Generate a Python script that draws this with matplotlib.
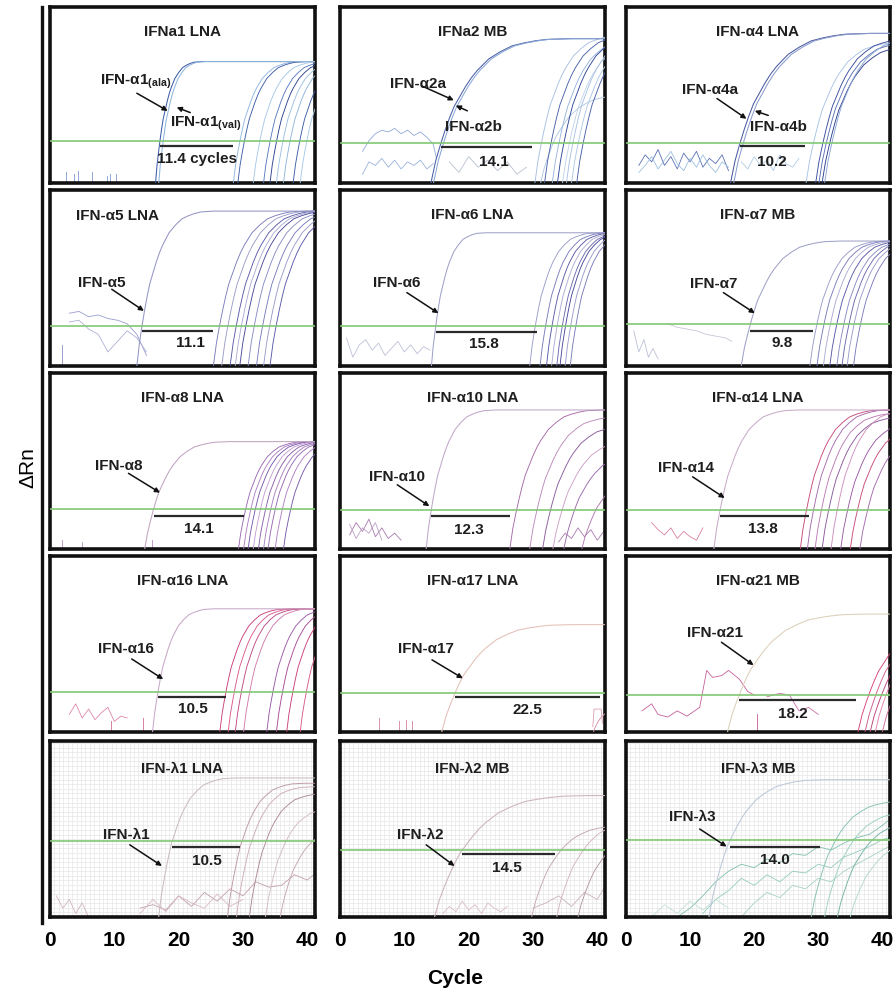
import numpy as np
import matplotlib
matplotlib.use("Agg")
import matplotlib.pyplot as plt
from matplotlib.lines import Line2D

plt.rcParams["font.family"] = ["Liberation Sans", "DejaVu Sans"]
plt.rcParams["mathtext.fontset"] = "custom"
plt.rcParams["mathtext.rm"] = "Liberation Sans:bold"
plt.rcParams["mathtext.it"] = "Liberation Sans:bold:italic"
plt.rcParams["mathtext.bf"] = "Liberation Sans:bold"

# ---------------------------------------------------------------- data
TITLES = ["IFNa1 LNA", "IFNa2 MB", "IFN-α4 LNA",
          "IFN-α5 LNA", "IFN-α6 LNA", "IFN-α7 MB",
          "IFN-α8 LNA", "IFN-α10 LNA", "IFN-α14 LNA",
          "IFN-α16 LNA", "IFN-α17 LNA", "IFN-α21 MB",
          "IFN-λ1 LNA", "IFN-λ2 MB", "IFN-λ3 MB"]

TARGET_LABELS = [["IFN-α1$_{\\mathregular{(ala)}}$", "IFN-α1$_{\\mathregular{(val)}}$"],
                 ["IFN-α2a", "IFN-α2b"], ["IFN-α4a", "IFN-α4b"],
                 ["IFN-α5"], ["IFN-α6"], ["IFN-α7"],
                 ["IFN-α8"], ["IFN-α10"], ["IFN-α14"],
                 ["IFN-α16"], ["IFN-α17"], ["IFN-α21"],
                 ["IFN-λ1"], ["IFN-λ2"], ["IFN-λ3"]]

# cycle difference between target and the other assays
DELTA_CT = [11.4, 14.1, 10.2, 11.1, 15.8, 9.8, 14.1, 12.3, 13.8,
            10.5, 22.5, 18.2, 10.5, 14.5, 14.0]

# threshold cycle of the target curve(s)
TARGET_CT = [[17.1, 17.6], [15.7, 16.1], [17.8, 18.3], [14.3], [14.9], [19.4],
             [16.1], [14.2], [14.7], [16.8], [17.9], [17.7],
             [19.0], [19.0], [16.3]]

# threshold level (fraction of the ΔRn axis)
THRESHOLD = [0.24, 0.227, 0.227, 0.227, 0.23, 0.237, 0.226, 0.224, 0.224,
             0.23, 0.223, 0.213, 0.43, 0.38, 0.44]

TARGET_PLATEAU = [0.69, 0.82, 0.85, 0.88, 0.757, 0.71, 0.61, 0.79, 0.79,
                  0.70, 0.61, 0.67, 0.79, 0.69, 0.78]
# cycles stretch of the amplification curve
CURVE_SPAN = [0.6, 1.8, 1.8, 1.0, 0.7, 1.3, 1.1, 0.9, 1.1,
              0.8, 1.7, 1.8, 1.0, 2.0, 1.5]

# start cycles and plateaus of the other (late) amplification curves
LATE_START = [[28.5, 29.2, 31.6, 33.2, 34.2, 35.2, 36.3, 37.8, 38.9],
              [30.3, 31.2, 31.8, 33.0, 33.8, 34.6, 35.2, 36.0, 36.8],
              [28.1, 29.6, 30.1, 30.6, 31.0],
              [25.4, 26.7, 28.0, 28.8, 29.5, 30.8, 32.1, 33.2, 34.2],
              [29.5, 31.1, 32.1, 32.9, 33.7, 34.2, 35.0, 35.8],
              [28.7, 29.8, 30.8, 31.8, 32.9, 33.7, 34.5, 35.5],
              [29.3, 30.1, 30.8, 31.6, 32.4, 33.2, 33.9, 35.0, 36.3],
              [26.4, 29.5, 31.5, 33.1, 34.8, 37.6],
              [27.2, 28.3, 29.5, 30.6, 32.0, 33.5, 35.0, 36.5],
              [26.4, 27.7, 28.8, 30.1, 33.7, 35.2, 36.8, 38.9],
              [39.4],
              [36.2, 37.3, 38.1, 38.9, 40.0],
              [27.6, 29.0, 31.0, 33.5, 35.8],
              [29.8, 33.7, 37.0],
              [28.9, 31.0, 33.0, 35.0]]
LATE_PLATEAU = [[0.69] * 9,
                [0.84, 0.50, 0.84, 0.82, 0.84, 0.80, 0.84, 0.82, 0.84],
                [0.80, 0.82, 0.80, 0.78, 0.82],
                [0.88] * 9,
                [0.757] * 8,
                [0.71] * 8,
                [0.61] * 9,
                [0.79, 0.75, 0.70, 0.62, 0.55, 0.45],
                [0.79, 0.79, 0.77, 0.75, 0.79, 0.72, 0.70, 0.66],
                [0.70] * 8,
                [0.14],
                [0.65, 0.65, 0.62, 0.65, 0.60],
                [0.76, 0.74, 0.70, 0.62, 0.50],
                [0.52, 0.55, 0.50],
                [0.66, 0.60, 0.55, 0.45]]
LATE_SPAN = [0.9, 1.2, 1.3, 1.2, 0.9, 1.0, 0.9, 1.2, 1.1,
             0.9, 0.5, 1.6, 1.0, 1.3, 1.3]

# normalised amplification-curve profile (cycles after lift-off, fraction of plateau)
PROFILE_DX = [0, 0.4, 0.8, 1.2, 1.6, 2.0, 2.5, 3.0, 3.5, 4.0, 4.5, 5.0,
              6.0, 7.0, 8.0, 9.0, 10.0, 12.0, 45.0]
PROFILE_Y = [0, 0.15, 0.26, 0.36, 0.45, 0.53, 0.60, 0.67, 0.73, 0.78, 0.82, 0.86,
             0.91, 0.95, 0.97, 0.985, 0.995, 1.0, 1.0]

# baseline noise traces
NOISE_PANEL = [1, 1, 1, 2, 2, 2, 3, 3, 4, 5, 5, 7, 7, 7, 8, 9, 10, 11, 11,
               12, 12, 12, 13, 13, 14, 14, 14, 14]
NOISE_X = [[3.5, 4.5, 5.5, 6.5, 7.5, 8.5, 9.5, 10.5, 11.5, 12.5, 13.5, 14.5, 15.0],
           [3.5, 4.5, 5.5, 6.5, 7.5, 8.5, 9.5, 10.5, 11.5, 12.5, 13.5, 14.5],
           [17, 18.5, 20, 21.5, 23, 24.5, 26, 27.5, 29],
           [2, 3, 4, 5, 6, 7, 8, 9, 10, 11, 12, 13, 14, 15, 16],
           [2, 3, 4, 5, 6, 7, 8, 9, 10, 11, 12, 13, 14, 15, 16],
           [18, 19, 20, 21, 22, 23, 24, 25, 26, 27],
           [3, 4.5, 6, 7.5, 9, 10.5, 12, 13.5, 15],
           [3, 4.5, 6, 7.5, 9, 10.5, 12, 13.5, 15],
           [1, 2, 3, 4, 5, 6, 7, 8, 9, 10, 11, 12, 13, 14],
           [6.5, 8, 9.5, 11, 12.5, 14, 15.5, 16.5],
           [1.2, 2, 2.8, 3.5, 4.2, 5],
           [1.5, 2.5, 3.5, 4.5, 5.5, 6.5, 7.5, 8.5, 9.5],
           [1.5, 2.5, 3.5, 4.5, 5.5, 6.5],
           [34, 35, 36, 37, 38, 39, 40, 41],
           [4, 5, 6, 7, 8, 9, 10, 11, 12],
           [3, 4, 5, 6, 7, 8, 9, 10, 11, 12],
           [39.3, 39.5, 40.6, 40.8],
           [2.5, 4, 5, 6.5, 8, 9.5, 11.5, 12.6, 13.5, 14.9, 16, 17.7, 19.0, 20],
           [22, 24, 25.5, 27, 28.5, 30],
           [1, 2, 3, 4, 5, 6],
           [14, 16, 18, 20, 22, 24, 26, 28, 30, 32, 34, 36, 38, 40, 41],
           [14, 16, 18, 20, 22, 24, 26, 28, 30],
           [16, 17, 18, 19, 20, 21, 22, 23, 24, 25, 26],
           [30, 32, 34, 36, 38, 40, 41],
           [8, 10, 12, 14, 16, 18, 20, 22, 24, 26, 28, 30, 32, 34, 36, 38, 40, 41],
           [12, 14, 16, 18, 20, 22, 24, 26, 28, 30, 32, 34, 36, 38, 40, 41],
           [18, 20, 22, 24, 26, 28, 30, 32, 34, 36, 38, 40, 41],
           [4, 6, 8, 10, 12, 14, 16]]
NOISE_Y = [[0.18, 0.24, 0.28, 0.30, 0.29, 0.31, 0.28, 0.30, 0.27, 0.29, 0.26, 0.22, 0.14],
           [0.05, 0.12, 0.10, 0.14, 0.09, 0.13, 0.08, 0.12, 0.10, 0.13, 0.08, 0.11],
           [0.12, 0.06, 0.15, 0.09, 0.13, 0.07, 0.12, 0.05, 0.09],
           [0.10, 0.16, 0.12, 0.19, 0.10, 0.15, 0.08, 0.17, 0.12, 0.18, 0.09, 0.14, 0.11, 0.16, 0.07],
           [0.06, 0.10, 0.15, 0.08, 0.13, 0.18, 0.11, 0.07, 0.14, 0.09, 0.16, 0.10, 0.06, 0.12, 0.09],
           [0.12, 0.08, 0.15, 0.10, 0.13, 0.07, 0.16, 0.11, 0.09, 0.14],
           [0.30, 0.31, 0.28, 0.29, 0.27, 0.26, 0.24, 0.18, 0.06],
           [0.25, 0.26, 0.21, 0.18, 0.08, 0.14, 0.20, 0.16, 0.08],
           [0.16, 0.05, 0.12, 0.15, 0.09, 0.13, 0.06, 0.10, 0.14, 0.08, 0.12, 0.07, 0.11, 0.09],
           [0.24, 0.22, 0.21, 0.20, 0.18, 0.17, 0.16, 0.14],
           [0.20, 0.08, 0.15, 0.05, 0.10, 0.04],
           [0.08, 0.15, 0.10, 0.17, 0.07, 0.12, 0.06, 0.09, 0.05],
           [0.14, 0.06, 0.12, 0.09, 0.15, 0.05],
           [0.04, 0.09, 0.06, 0.12, 0.07, 0.11, 0.05, 0.10],
           [0.15, 0.11, 0.08, 0.12, 0.06, 0.10, 0.07, 0.05, 0.12],
           [0.10, 0.16, 0.08, 0.13, 0.07, 0.11, 0.14, 0.06, 0.09, 0.08],
           [0.03, 0.13, 0.13, 0.05],
           [0.12, 0.16, 0.10, 0.085, 0.12, 0.09, 0.14, 0.35, 0.31, 0.32, 0.35, 0.30, 0.23, 0.21],
           [0.20, 0.22, 0.21, 0.12, 0.14, 0.10],
           [0.12, 0.05, 0.10, 0.02, 0.08, 0.0],
           [0.05, 0.07, 0.04, 0.12, 0.06, 0.14, 0.09, 0.16, 0.12, 0.20, 0.17, 0.18, 0.24, 0.21, 0.24],
           [0.02, 0.10, 0.03, 0.12, 0.08, 0.05, 0.13, 0.06, 0.10],
           [0.02, 0.06, 0.03, 0.09, 0.04, 0.07, 0.02, 0.08, 0.05, 0.03, 0.06],
           [0.05, 0.08, 0.12, 0.06, 0.14, 0.10, 0.16],
           [0.0, 0.05, 0.12, 0.20, 0.26, 0.30, 0.28, 0.33, 0.31, 0.36, 0.35, 0.40, 0.38, 0.42, 0.45, 0.47, 0.52, 0.55],
           [0.02, 0.10, 0.15, 0.22, 0.18, 0.24, 0.20, 0.26, 0.25, 0.30, 0.28, 0.34, 0.37, 0.40, 0.44, 0.45],
           [0.0, 0.08, 0.14, 0.11, 0.18, 0.16, 0.22, 0.20, 0.26, 0.30, 0.34, 0.38, 0.40],
           [0.0, 0.07, 0.02, 0.09, 0.04, 0.10, 0.05]]

# small baseline spikes
SPIKE_PANEL = [0, 0, 0, 0, 0, 0, 0, 6, 6, 6, 9, 9, 10, 10, 10, 10, 11, 3]
SPIKE_X = [2.5, 3.8, 4.3, 6.6, 8.8, 9.4, 10.2, 1.8, 5.0, 15.8, 9.5, 14.5, 6.0, 9.2, 10.2, 11.2, 20.5, 1.8]
SPIKE_H = [0.06, 0.05, 0.07, 0.06, 0.04, 0.05, 0.05, 0.05, 0.04, 0.05, 0.06, 0.08, 0.08, 0.06, 0.07, 0.06, 0.10, 0.12]

XTICKS = [0, 10, 20, 30, 40]

# ---------------------------------------------------------------- layout / style
W, H = 895, 990
COL_LEFT = [50, 340, 626]
COL_W = [265, 265, 264]
ROW_TOP = [7, 190, 373, 556, 741]
ROW_H = 176
XMAX = 41.2
FS = 11
TXT = "#1e1e1e"

TITLE_POS = [(0.5, 0.86)] * 3 + [(0.10, 0.85)] + [(0.5, 0.86)] * 8 + [(0.5, 0.84)] * 3
LABEL_POS = [[(7.8, 0.574), (18.7, 0.337)], [(7.8, 0.565), (16.4, 0.32)],
             [(8.7, 0.527), (19.4, 0.32)], [(4.4, 0.473)], [(5.2, 0.47)], [(10.0, 0.464)],
             [(7.0, 0.47)], [(4.5, 0.41)], [(5.0, 0.46)], [(7.5, 0.47)], [(9.0, 0.47)],
             [(9.5, 0.56)], [(8.3, 0.466)], [(8.9, 0.465)], [(6.7, 0.57)]]
ARROWS = [[((13.5, 0.51), (18.3, 0.41)), ((21.8, 0.40), (19.7, 0.43))],
          [((12.8, 0.55), (17.7, 0.47)), ((19.8, 0.41), (18.0, 0.44))],
          [((14.2, 0.48), (18.8, 0.365)), ((22.2, 0.384), (20.1, 0.41))],
          [((9.6, 0.436), (14.6, 0.313))], [((10.4, 0.417), (15.3, 0.30))],
          [((15.2, 0.417), (20.1, 0.30))], [((12.2, 0.43), (17.1, 0.32))],
          [((8.9, 0.365), (13.9, 0.243))], [((10.4, 0.41), (15.4, 0.29))],
          [((12.7, 0.415), (17.6, 0.30))], [((14.3, 0.41), (19.1, 0.305))],
          [((14.9, 0.51), (19.9, 0.38))], [((12.4, 0.41), (17.4, 0.29))],
          [((13.4, 0.41), (17.8, 0.29))], [((11.5, 0.50), (15.7, 0.40))]]
BAR_Y = [0.21, 0.205, 0.208, 0.199, 0.193, 0.20, 0.189, 0.187, 0.19,
         0.198, 0.20, 0.18, 0.40, 0.356, 0.40]
DELTA_POS = [(22.8, 0.138), (24.0, 0.12), (22.7, 0.12), (21.8, 0.133), (22.4, 0.123),
             (24.3, 0.133), (23.1, 0.113), (20.0, 0.11), (21.3, 0.115), (22.2, 0.128),
             (29.2, 0.124), (26.1, 0.105), (24.4, 0.32), (25.9, 0.28), (23.3, 0.325)]

TARGET_COLORS = [["#3f5ea8", "#8fb6dc"], ["#4a5fa8", "#8aa8d6"], ["#4a5aa0", "#8a9ccc"],
                 ["#9496c4"], ["#a0a2c8"], ["#a0a2c8"],
                 ["#c0a4c0"], ["#c0a8c8"], ["#c8acc8"],
                 ["#c8a8c8"], ["#e4c0b8"], ["#dcd0b8"],
                 ["#ccbcc4"], ["#ccb4bc"], ["#bcc8d8"]]
LATE_COLORS = [["#8fb6dc", "#3f5ea8", "#a8c8e8", "#5a7cc0", "#2c4490", "#9cc0e0"],
               ["#a8c0e0", "#b0c8e4", "#4a62aa", "#98b4dc", "#30489a", "#c0d4ec"],
               ["#a8c4e4", "#3a4c9c", "#5a70b8", "#2c3e8c", "#8aa4d4"],
               ["#7a7cbc", "#9a9cca", "#5a5aa8", "#acacd2", "#4a4a9c", "#8a8cc4"],
               ["#9a9cca", "#7a7cbc", "#5a5aa8", "#acacd2", "#6a6ab0", "#4a4a9c"],
               ["#9a9cca", "#7a7cbc", "#acacd2", "#5a5aa8", "#8a8cc4", "#6a6ab0"],
               ["#9a6ab4", "#b080c4", "#7a5aac", "#c4a0d0", "#8a60ac", "#aa80bc"],
               ["#a66aa6", "#bc8abc", "#8a5a9c", "#cca0c4", "#9a6aac", "#b07ab0"],
               ["#c84a7c", "#a66aac", "#bc7ab4", "#8a5a9c", "#cc90bc", "#9a5aa4"],
               ["#c8407a", "#d85a8c", "#bc4a84", "#d07aaa", "#9a5aa6", "#a84a96"],
               ["#d890ac"],
               ["#d8407a", "#cc5a8c", "#bc407c", "#e480ac", "#cc6a96"],
               ["#bc98a6", "#ccacbc", "#ac8898", "#d4bcc6", "#c4a6b4"],
               ["#c4a6b4", "#d4b6c0", "#b498a6"],
               ["#84c0b2", "#9cd0c2", "#74b2a4", "#b2d8cc"]]
NOISE_COLORS = ["#8fa8d8", "#9ab2dc", "#b8c0d0", "#5a70b4", "#9cc0e0", "#b0cce8",
                "#9a9ed0", "#acb0d8", "#bcc0d8", "#c4c8d8", "#bcc0d4", "#a87aae", "#bca0c4",
                "#ac7ab4", "#d880a4", "#dc88ac", "#dca0b4", "#c8609a", "#cc70a6",
                "#d0b4c2", "#c2a0a8", "#d8b8c4", "#dcbcc4", "#ccb0bc",
                "#80c0b0", "#94ccbc", "#a6d2c2", "#c2e0d8"]
SPIKE_COLORS = ["#8fa8d8"] * 7 + ["#bca0c4"] * 3 + ["#d880a4"] * 2 + ["#d890ac"] * 4 + ["#cc70a6", "#9a9ed0"]


def draw_curve(ax, start, plateau, span, color, lw=0.7):
    xs = start + span * np.asarray(PROFILE_DX)
    ys = plateau * np.asarray(PROFILE_Y)
    ax.plot(xs, ys, color=color, lw=lw, solid_capstyle="round", zorder=3)


fig = plt.figure(figsize=(W / 100, H / 100), dpi=100)

for idx in range(15):
    r, c = divmod(idx, 3)
    left, top = COL_LEFT[c], ROW_TOP[r]
    ax = fig.add_axes([left / W, 1 - (top + ROW_H) / H, COL_W[c] / W, ROW_H / H])
    ax.set_xlim(0, XMAX)
    ax.set_ylim(0, 1)
    for s in ax.spines.values():
        s.set_linewidth(2.6)
        s.set_color("#111111")
    ax.tick_params(length=0)
    ax.set_yticks([])
    if r == 4:
        ax.set_xticks(XTICKS)
        ax.set_xticklabels([str(t) for t in XTICKS], fontsize=15, fontweight="bold")
        ax.tick_params(axis="x", pad=10)
        for g in np.arange(0, XMAX, 0.6875):
            ax.axvline(g, color="#e6e6e6", lw=0.5, zorder=0)
        for g in np.arange(0, 1, 0.026):
            ax.axhline(g, color="#e6e6e6", lw=0.5, zorder=0)
    else:
        ax.set_xticks([])

    thr = THRESHOLD[idx]
    # noise
    for p, xs, ys, col in zip(NOISE_PANEL, NOISE_X, NOISE_Y, NOISE_COLORS):
        if p == idx:
            ax.plot(xs, ys, color=col, lw=0.6, zorder=2)
    for p, x, h, col in zip(SPIKE_PANEL, SPIKE_X, SPIKE_H, SPIKE_COLORS):
        if p == idx:
            ax.plot([x, x], [0, h], color=col, lw=0.7, zorder=2)

    # late curves
    cols = LATE_COLORS[idx]
    for k, (st, pl) in enumerate(zip(LATE_START[idx], LATE_PLATEAU[idx])):
        draw_curve(ax, st, pl, LATE_SPAN[idx], cols[k % len(cols)], lw=0.65)

    # target curves
    tp = TARGET_PLATEAU[idx]
    for k, ct in enumerate(TARGET_CT[idx]):
        lift = np.interp(min(thr / tp, 0.99), PROFILE_Y, PROFILE_DX)
        start = ct - CURVE_SPAN[idx] * lift
        draw_curve(ax, start, tp, CURVE_SPAN[idx], TARGET_COLORS[idx][k], lw=0.75)

    # threshold line
    ax.axhline(thr, color="#80c872", lw=1.2, zorder=4)

    # delta-Ct bar
    b0 = TARGET_CT[idx][0]
    ax.plot([b0, b0 + DELTA_CT[idx]], [BAR_Y[idx], BAR_Y[idx]], color="#2a2a2a",
            lw=1.6, zorder=5, solid_capstyle="butt", clip_on=True)
    dlabel = f"{DELTA_CT[idx]:.1f}" + (" cycles" if idx == 0 else "")
    ax.text(DELTA_POS[idx][0], DELTA_POS[idx][1], dlabel, ha="center", va="center",
            fontsize=FS, fontweight="bold", color=TXT, zorder=6)

    # title
    tx, ty = TITLE_POS[idx]
    ax.text(tx, ty, TITLES[idx], transform=ax.transAxes,
            ha="left" if idx == 3 else "center", va="center",
            fontsize=FS, fontweight="bold", color=TXT, zorder=6)

    # labels + arrows
    for lab, (lx, ly), (a0, a1) in zip(TARGET_LABELS[idx], LABEL_POS[idx], ARROWS[idx]):
        ax.text(lx, ly, lab, ha="left", va="center", fontsize=FS, fontweight="bold",
                color=TXT, zorder=6)
        ax.annotate("", xy=a1, xytext=a0,
                    arrowprops=dict(arrowstyle="-|>", color="#111111", lw=1.1,
                                    mutation_scale=7, shrinkA=0, shrinkB=0), zorder=6)

# y-axis rule and labels
fig.add_artist(Line2D([42 / W, 42 / W], [1 - 7 / H, 1 - 923 / H], color="#111111", lw=2.4))
fig.text(28 / W, 1 - 468 / H, "ΔRn", rotation=90, ha="center", va="center", fontsize=15)
fig.text(455 / W, 1 - 978 / H, "Cycle", ha="center", va="center", fontsize=15, fontweight="bold")

fig.savefig("out.png", dpi=100)
